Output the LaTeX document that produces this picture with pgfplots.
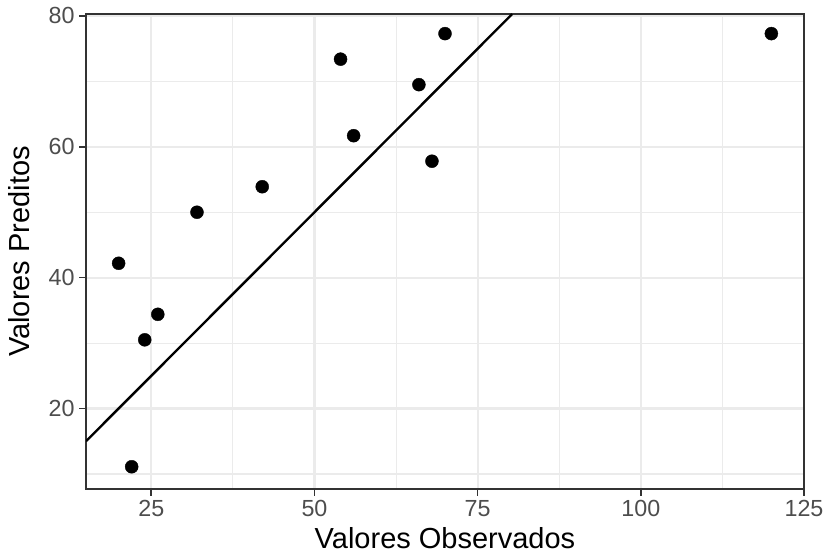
\documentclass[border=0pt]{standalone}
\usepackage{fontspec}
\setmainfont{Liberation Sans}
\usepackage{pgfplots}
\pgfplotsset{compat=1.18}
\definecolor{gridgray}{HTML}{EBEBEB}
\definecolor{bordergray}{HTML}{333333}
\definecolor{ticktext}{HTML}{4D4D4D}

\begin{document}
\begin{tikzpicture}
\begin{axis}[
    scale only axis,
    width=718pt, height=475pt,
    xmin=15, xmax=125, ymin=7.7, ymax=80.3,
    xtick={25,50,75,100,125},
    ytick={20,40,60,80},
    minor xtick={37.5,62.5,87.5,112.5},
    minor ytick={10,30,50,70},
    xtick pos=bottom, ytick pos=left,
    grid=both,
    major grid style={draw=gridgray, line width=2.2pt},
    minor grid style={draw=gridgray, line width=1.1pt},
    axis line style={draw=bordergray, line width=1.6pt},
    tick align=outside,
    major tick length=7pt,
    minor tick length=0pt,
    every tick/.style={draw=bordergray, line width=1.6pt},
    tick label style={font=\fontsize{23.3}{28}\selectfont, text=ticktext},
    xticklabel style={yshift=-1pt},
    yticklabel style={xshift=-1pt},
    /pgf/number format/assume math mode=true,
    xlabel={Valores Observados},
    ylabel={Valores Preditos},
    label style={font=\fontsize{29}{34}\selectfont},
    xlabel style={at={(axis description cs:0.5,-0.125)}, anchor=base},
    ylabel style={at={(axis description cs:-0.078,0.5)}, anchor=base},
    clip mode=individual,
]
\addplot[black, line width=2.4pt] coordinates {(15,15) (80.3,80.3)};
\addplot[only marks, mark=*, mark size=6.5pt, mark options={fill=black, draw=black}] coordinates {
    (20,42.2)
    (22,11.1)
    (24,30.5)
    (26,34.4)
    (32,50.0)
    (42,53.9)
    (54,73.4)
    (56,61.7)
    (66,69.5)
    (68,57.8)
    (70,77.3)
    (120,77.3)
};
\coordinate (bl) at (rel axis cs:-0.11978,-0.14105);
\coordinate (tr) at (rel axis cs:1.03203,1.02947);
\end{axis}
\pgfresetboundingbox
\path (bl) rectangle (tr);
\end{tikzpicture}
\end{document}
